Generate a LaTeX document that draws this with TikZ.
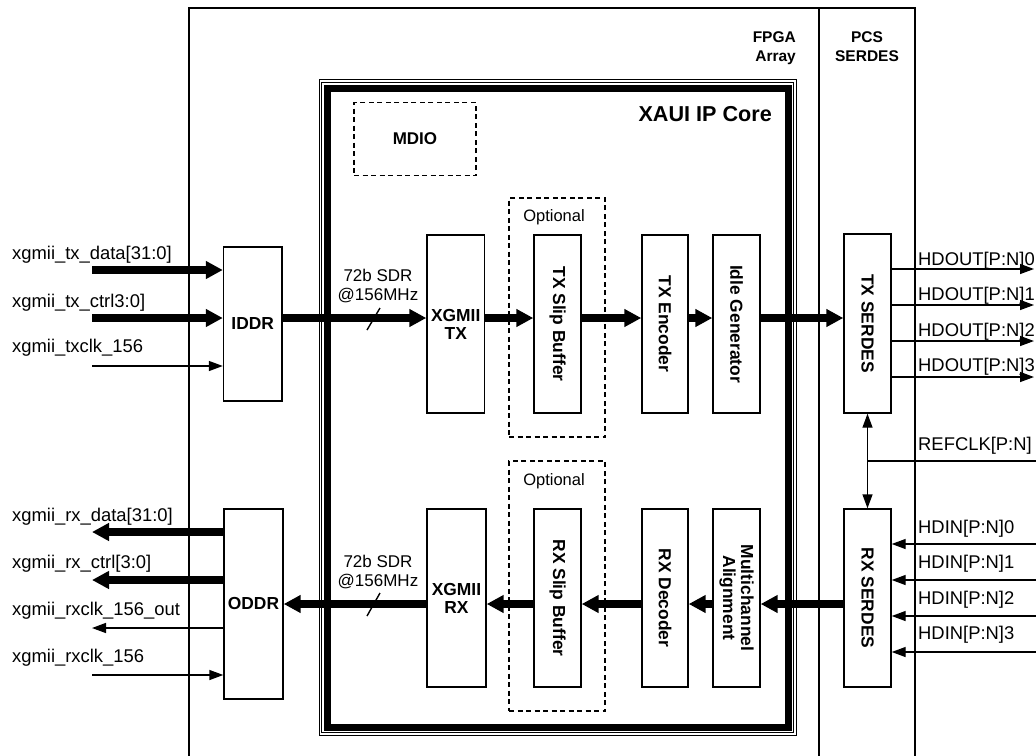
\documentclass[tikz,border=0pt]{standalone}
\usepackage{fontspec}
\setmainfont{Liberation Sans}
\usetikzlibrary{arrows.meta}
\begin{document}
\begin{tikzpicture}[x=1pt,y=-1pt,
  box/.style={draw, line width=1.4pt, inner sep=0pt, font=\bfseries\fontsize{17.4}{18}\selectfont, align=center},
  vtext/.style={label={[rotate=-90,inner sep=0pt,font=\bfseries\fontsize{17.4}{18}\selectfont,align=center]center:{#1}}},
  dashbox/.style={draw, line width=1.4pt, dash pattern=on 5pt off 3.5pt, inner sep=0pt},
  lbl/.style={inner sep=0pt, font=\fontsize{18.4}{20}\selectfont},
  small/.style={inner sep=0pt, font=\fontsize{16.5}{18}\selectfont},
  hdr/.style={inner sep=0pt, font=\bfseries\fontsize{15.5}{17}\selectfont},
  busarrow/.style={line width=8pt, -{Triangle[length=17pt,width=17pt]}},
  sigarrow/.style={line width=1.4pt, -{Triangle[length=14pt,width=10pt]}},
  sigline/.style={line width=1.4pt},
  slash/.style={line width=1.4pt}
]
\useasboundingbox (0,0) rectangle (1036,755);

% outer regions
\draw[line width=1.4pt] (189,756) -- (189,8) -- (915,8) -- (915,756);
\draw[line width=2.4pt] (819,8) -- (819,756);
\node[hdr, anchor=base east] (fpga1) at (796,42) {FPGA};
\node[hdr, anchor=base east] (fpga2) at (796,61) {Array};
\node[hdr, anchor=base] (pcs1) at (867,42) {PCS};
\node[hdr, anchor=base] (pcs2) at (867,61) {SERDES};

% XAUI IP core frame
\draw[line width=1pt] (319,79.5) rectangle (796,735);
\draw[line width=1pt] (321.5,82) rectangle (793.5,732.5);
\draw[line width=7pt] (327,88) rectangle (788.5,727.5);
\node[inner sep=0pt, font=\bfseries\fontsize{21.6}{24}\selectfont, anchor=base east] (xaui) at (772,121) {XAUI IP Core};

% MDIO
\node[dashbox, minimum width=122pt, minimum height=73pt, font=\bfseries\fontsize{17}{18}\selectfont] (mdio) at (415,139) {MDIO};

% optional dashed boxes
\node[dashbox, minimum width=96pt, minimum height=239pt] (opttx) at (557,317.5) {};
\node[dashbox, minimum width=96pt, minimum height=250pt] (optrx) at (557,586) {};
\node[small, anchor=base] (opttxl) at (554,221.5) {Optional};
\node[small, anchor=base] (optrxl) at (554,485) {Optional};

% blocks
\node[box, minimum width=58.5pt, minimum height=154pt] (iddr) at (252.75,324) {IDDR};
\node[box, minimum width=59pt, minimum height=190pt] (oddr) at (253.5,604) {ODDR};
\node[box, minimum width=57.5pt, minimum height=178pt] (xgtx) at (455.75,324) {XGMII\\TX};
\node[box, minimum width=59pt, minimum height=178pt] (xgrx) at (456.5,598) {XGMII\\RX};
\node[box, minimum width=47pt, minimum height=178pt, vtext={TX Slip Buffer}] (slptx) at (557.5,324) {};
\node[box, minimum width=47pt, minimum height=178pt, vtext={RX Slip Buffer}] (slprx) at (557.5,598) {};
\node[box, minimum width=46pt, minimum height=178pt, vtext={TX Encoder}] (enc) at (665,324) {};
\node[box, minimum width=46pt, minimum height=178pt, vtext={RX Decoder}] (dec) at (665,598) {};
\node[box, minimum width=47pt, minimum height=178pt, vtext={Idle Generator}] (idle) at (736.5,324) {};
\node[box, minimum width=47pt, minimum height=178pt, vtext={Multichannel\\Alignment}] (align) at (736.5,598) {};
\node[box, minimum width=47pt, minimum height=179pt, vtext={TX SERDES}] (txs) at (867.5,323.5) {};
\node[box, minimum width=47pt, minimum height=178pt, vtext={RX SERDES}] (rxs) at (867.5,598) {};

% flow rows
\coordinate (txy) at (0,318);
\coordinate (rxy) at (0,604);

% TX datapath
\draw[busarrow] (iddr.east |- txy) -- (xgtx.west |- txy);
\draw[busarrow] (xgtx.east |- txy) -- (slptx.west |- txy);
\draw[busarrow] (slptx.east |- txy) -- (enc.west |- txy);
\draw[busarrow] (enc.east |- txy) -- (idle.west |- txy);
\draw[busarrow] (idle.east |- txy) -- (txs.west |- txy);

% RX datapath
\draw[busarrow] (rxs.west |- rxy) -- (align.east |- rxy);
\draw[busarrow] (align.west |- rxy) -- (dec.east |- rxy);
\draw[busarrow] (dec.west |- rxy) -- (slprx.east |- rxy);
\draw[busarrow] (slprx.west |- rxy) -- (xgrx.east |- rxy);
\draw[busarrow] (xgrx.west |- rxy) -- (oddr.east |- rxy);

% bus width marks
\coordinate (s1a) at (367,330); \coordinate (s1b) at (380,308);
\coordinate (s2a) at (367,616); \coordinate (s2b) at (380,593);
\draw[slash] (s1a) -- (s1b);
\draw[slash] (s2a) -- (s2b);
\node[small, font=\fontsize{17}{18}\selectfont, anchor=base] (w1a) at (378,281) {72b SDR};
\node[small, font=\fontsize{17}{18}\selectfont, anchor=base] (w1b) at (378,300) {@156MHz};
\node[small, font=\fontsize{17}{18}\selectfont, anchor=base] (w2a) at (378,567) {72b SDR};
\node[small, font=\fontsize{17}{18}\selectfont, anchor=base] (w2b) at (378,586) {@156MHz};

% left side inputs
\coordinate (i1) at (92,270); \coordinate (i2) at (92,318); \coordinate (i3) at (92,366);
\draw[busarrow] (i1) -- (iddr.west |- i1);
\draw[busarrow] (i2) -- (iddr.west |- i2);
\draw[sigarrow] (i3) -- (iddr.west |- i3);
\node[lbl, anchor=base west] (li1) at (12,259) {xgmii\_tx\_data[31:0]};
\node[lbl, anchor=base west] (li2) at (12,307.5) {xgmii\_tx\_ctrl3:0]};
\node[lbl, anchor=base west] (li3) at (12,352) {xgmii\_txclk\_156};

% left side outputs
\coordinate (o1) at (92,532); \coordinate (o2) at (92,580); \coordinate (o3) at (92,628); \coordinate (o4) at (92,675);
\draw[busarrow] (oddr.west |- o1) -- (o1);
\draw[busarrow] (oddr.west |- o2) -- (o2);
\draw[sigarrow] (oddr.west |- o3) -- (o3);
\draw[sigarrow] (o4) -- (oddr.west |- o4);
\node[lbl, anchor=base west] (lo1) at (12,521) {xgmii\_rx\_data[31:0]};
\node[lbl, anchor=base west] (lo2) at (12,568) {xgmii\_rx\_ctrl[3:0]};
\node[lbl, anchor=base west] (lo3) at (12,615) {xgmii\_rxclk\_156\_out};
\node[lbl, anchor=base west] (lo4) at (12,662.5) {xgmii\_rxclk\_156};

% right side HDOUT
\coordinate (h0) at (1034,269); \coordinate (h1) at (1034,305); \coordinate (h2) at (1034,341); \coordinate (h3) at (1034,377);
\draw[sigarrow] (txs.east |- h0) -- (h0);
\draw[sigarrow] (txs.east |- h1) -- (h1);
\draw[sigarrow] (txs.east |- h2) -- (h2);
\draw[sigarrow] (txs.east |- h3) -- (h3);
\node[lbl, anchor=base west] (lh0) at (918,265) {HDOUT[P:N]0};
\node[lbl, anchor=base west] (lh1) at (918,300) {HDOUT[P:N]1};
\node[lbl, anchor=base west] (lh2) at (918,336) {HDOUT[P:N]2};
\node[lbl, anchor=base west] (lh3) at (918,371) {HDOUT[P:N]3};

% REFCLK
\draw[line width=1.4pt, {Triangle[length=14pt,width=10pt]}-{Triangle[length=14pt,width=10pt]}] (txs.south) -- (rxs.north);
\coordinate (rcj) at (867.5,461); \coordinate (rce) at (1036,461);
\draw[sigline] (rcj) -- (rce);
\node[lbl, anchor=base west] (lrc) at (918,450) {REFCLK[P:N]};

% right side HDIN
\coordinate (d0) at (1036,544); \coordinate (d1) at (1036,580); \coordinate (d2) at (1036,616); \coordinate (d3) at (1036,652);
\draw[sigarrow] (d0) -- (rxs.east |- d0);
\draw[sigarrow] (d1) -- (rxs.east |- d1);
\draw[sigarrow] (d2) -- (rxs.east |- d2);
\draw[sigarrow] (d3) -- (rxs.east |- d3);
\node[lbl, anchor=base west] (ld0) at (918,533.5) {HDIN[P:N]0};
\node[lbl, anchor=base west] (ld1) at (918,568.5) {HDIN[P:N]1};
\node[lbl, anchor=base west] (ld2) at (918,604) {HDIN[P:N]2};
\node[lbl, anchor=base west] (ld3) at (918,639.5) {HDIN[P:N]3};
\end{tikzpicture}
\end{document}
